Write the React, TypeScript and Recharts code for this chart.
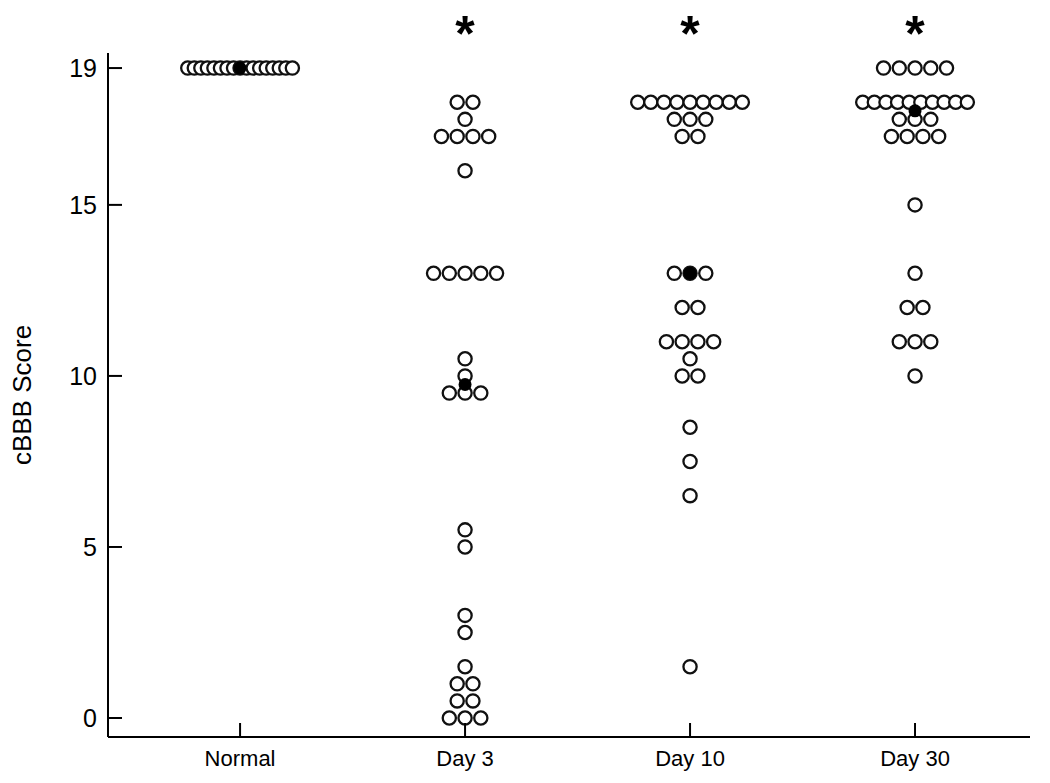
import React from "react";
import { ScatterChart, Scatter, XAxis, YAxis } from "recharts";

// group names and where they sit on the x axis
const groups = ["Normal", "Day 3", "Day 10", "Day 30"];
const groupPositions = [1, 2, 3, 4];

// individual cBBB scores
const normalScores = [19, 19, 19, 19, 19, 19, 19, 19, 19, 19, 19, 19, 19, 19, 19, 19, 19];
const day3Scores = [
  18, 18, 17.5, 17, 17, 17, 17, 16, 13, 13, 13, 13, 13, 10.5, 10, 9.5, 9.5, 9.5,
  5.5, 5, 3, 2.5, 1.5, 1, 1, 0.5, 0.5, 0, 0, 0,
];
const day10Scores = [
  18, 18, 18, 18, 18, 18, 18, 18, 18, 17.5, 17.5, 17.5, 17, 17, 13, 13, 13, 12, 12,
  11, 11, 11, 11, 10.5, 10, 10, 8.5, 7.5, 6.5, 1.5,
];
const day30Scores = [
  19, 19, 19, 19, 19, 18, 18, 18, 18, 18, 18, 18, 18, 18, 18, 17.5, 17.5, 17.5,
  17, 17, 17, 17, 15, 13, 12, 12, 11, 11, 11, 10,
];

// medians (filled dots) and significance markers
const medians = [19, 9.75, 13, 17.75];
const significant = ["", "*", "*", "*"];

const yTicks = [0, 5, 10, 15, 19];
const yDomain = [-0.555, 19.44];
const xDomain = [0.413, 4.511];

const DOT_GAP = 0.07; // x units between neighbouring dots in a row
const MAX_ROW = 0.465; // widest a row may spread

const FONT = "'Liberation Sans', Arial, sans-serif";

function layoutDots(scores: number[], pos: number) {
  const counts = new Map<number, number>();
  scores.forEach((v) => counts.set(v, (counts.get(v) ?? 0) + 1));
  const seen = new Map<number, number>();
  return scores.map((v) => {
    const n = counts.get(v)!;
    const i = seen.get(v) ?? 0;
    seen.set(v, i + 1);
    const gap = n > 1 ? Math.min(DOT_GAP, MAX_ROW / (n - 1)) : 0;
    return { x: pos + (i - (n - 1) / 2) * gap, y: v };
  });
}

const allScores = [normalScores, day3Scores, day10Scores, day30Scores];
const dots = allScores.flatMap((s, i) => layoutDots(s, groupPositions[i]));
const medianDots = medians.map((m, i) => ({ x: groupPositions[i], y: m }));
// asterisks hang above the top of the value axis
const starDots = significant
  .map((s, i) => ({ x: groupPositions[i], y: yDomain[1], mark: s }))
  .filter((d) => d.mark);

const OpenDot = (p: any) => (
  <circle cx={p.cx} cy={p.cy} r={6.6} fill="#fff" stroke="#111" strokeWidth={2.3} />
);
const FilledDot = (p: any) => <circle cx={p.cx} cy={p.cy} r={6.5} fill="#000" />;
const StarMark = (p: any) => (
  <text
    x={p.cx}
    y={p.cy}
    dy={-2}
    textAnchor="middle"
    fontSize={50}
    fontWeight="bold"
    fontFamily={FONT}
    fill="#000"
  >
    {p.payload.mark}
  </text>
);

const YTick = (p: any) => (
  <g>
    <line x1={p.x} x2={p.x + 14} y1={p.y} y2={p.y} stroke="#000" strokeWidth={2} />
    <text x={p.x - 11} y={p.y} dy={9} textAnchor="end" fontSize={25} fontFamily={FONT} fill="#000">
      {p.payload.value}
    </text>
  </g>
);

const XTick = (p: any) => {
  const idx = groupPositions.indexOf(p.payload.value);
  return (
    <g>
      <line x1={p.x} x2={p.x} y1={p.y} y2={p.y - 14} stroke="#000" strokeWidth={2} />
      <text x={p.x} y={p.y} dy={29} textAnchor="middle" fontSize={22} fontFamily={FONT} fill="#000">
        {groups[idx]}
      </text>
    </g>
  );
};

const YLabel = (p: any) => {
  const vb = p.viewBox;
  const cx = vb.x + 22;
  const cy = vb.y + vb.height / 2;
  return (
    <text
      x={cx}
      y={cy}
      transform={`rotate(-90 ${cx} ${cy})`}
      textAnchor="middle"
      dominantBaseline="central"
      fontSize={26}
      fontFamily={FONT}
      fill="#000"
    >
      cBBB Score
    </text>
  );
};

export default function App() {
  return (
    <div style={{ position: "absolute", left: 0, top: 0, background: "#fff" }}>
      <ScatterChart width={1050} height={783} margin={{ top: 53, right: 20, bottom: 0, left: 0 }}>
        <XAxis
          type="number"
          dataKey="x"
          domain={xDomain}
          ticks={groupPositions}
          height={46}
          tickSize={0}
          tickMargin={0}
          tickLine={false}
          tick={<XTick />}
          axisLine={{ stroke: "#000", strokeWidth: 2 }}
        />
        <YAxis
          type="number"
          dataKey="y"
          domain={yDomain}
          ticks={yTicks}
          width={108}
          tickSize={0}
          tickMargin={0}
          tickLine={false}
          tick={<YTick />}
          axisLine={{ stroke: "#000", strokeWidth: 2 }}
          label={<YLabel />}
        />
        <Scatter data={dots} shape={<OpenDot />} isAnimationActive={false} />
        <Scatter data={medianDots} shape={<FilledDot />} isAnimationActive={false} />
        <Scatter data={starDots} shape={<StarMark />} isAnimationActive={false} />
      </ScatterChart>
    </div>
  );
}
